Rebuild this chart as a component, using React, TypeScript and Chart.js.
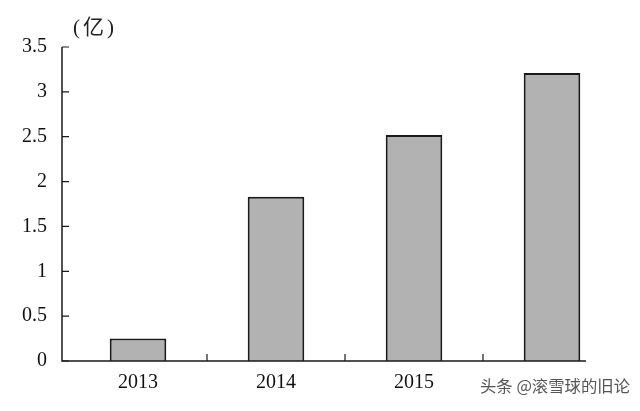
import React, { useEffect, useRef } from "react";
import { Chart, registerables } from "chart.js";

Chart.register(...registerables);

const categories = ["2013", "2014", "2015", "2016"];
const values = [0.25, 1.83, 2.52, 3.21];
const yTicks = [0, 0.5, 1, 1.5, 2, 2.5, 3, 3.5];
const unitLabel = "(亿)";
const watermark = "头条 @滚雪球的旧论";

const axisPlugin = {
  id: "axisPlugin",
  afterDraw(chart: any) {
    const ctx = chart.ctx;
    const ca = chart.chartArea;
    const x = chart.scales.x;
    const y = chart.scales.y;
    const axisX = ca.left - 7;
    const y0 = y.getPixelForValue(0);
    const yTop = y.getPixelForValue(3.5);
    ctx.save();
    ctx.strokeStyle = "#1a1a1a";
    ctx.lineWidth = 1.5;
    ctx.beginPath();
    ctx.moveTo(axisX, yTop);
    ctx.lineTo(axisX, y0);
    const lastRight = x.getPixelForValue(categories.length - 1) + 34;
    ctx.lineTo(lastRight, y0);
    ctx.stroke();
    ctx.lineWidth = 1.2;
    ctx.beginPath();
    yTicks.forEach((v) => {
      const py = y.getPixelForValue(v);
      ctx.moveTo(axisX, py);
      ctx.lineTo(axisX + 7, py);
    });
    for (let i = 0; i < categories.length - 1; i++) {
      const px = (x.getPixelForValue(i) + x.getPixelForValue(i + 1)) / 2;
      ctx.moveTo(px, y0);
      ctx.lineTo(px, y0 - 7);
    }
    ctx.stroke();
    // unit label
    ctx.fillStyle = "#222";
    ctx.font = '21px "Liberation Serif", "Noto Sans CJK SC"';
    ctx.textAlign = "left";
    ctx.textBaseline = "middle";
    (ctx as any).letterSpacing = "3px";
    ctx.fillText(unitLabel, ca.left + 4, 28);
    (ctx as any).letterSpacing = "0px";
    // watermark
    ctx.font = '18px "Noto Sans CJK SC"';
    const w0 = ctx.measureText(watermark).width;
    const size = Math.min(18, (18 * 150) / w0);
    ctx.font = size.toFixed(2) + 'px "Noto Sans CJK SC"';
    const w = ctx.measureText(watermark).width;
    ctx.fillStyle = "#ffffff";
    ctx.fillRect(477, 372, w + 8, 26);
    ctx.fillStyle = "#555";
    ctx.fillText(watermark, 480, 386);
    ctx.restore();
  },
};

export default function App() {
  const ref = useRef<HTMLCanvasElement | null>(null);
  useEffect(() => {
    document.body.style.margin = "0";
    const chart = new Chart(ref.current as HTMLCanvasElement, {
      type: "bar",
      data: {
        labels: categories,
        datasets: [
          {
            data: values,
            backgroundColor: "#b2b2b2",
            borderColor: "#1a1a1a",
            borderWidth: 2,
            categoryPercentage: 1,
            barPercentage: 0.41,
          },
        ],
      },
      options: {
        responsive: false,
        animation: false,
        layout: { padding: { top: 47, right: 19, left: 0, bottom: 0 } },
        plugins: { legend: { display: false }, tooltip: { enabled: false } },
        scales: {
          x: {
            grid: { display: false, drawTicks: false },
            border: { display: false },
            afterFit: (s: any) => {
              s.height = 50;
            },
            ticks: {
              padding: 10,
              color: "#111",
              font: { family: '"Liberation Serif"', size: 20 },
            },
          },
          y: {
            min: 0,
            max: 3.5,
            grid: { display: false, drawTicks: false },
            border: { display: false },
            afterFit: (s: any) => {
              s.width = 69;
            },
            afterBuildTicks: (s: any) => {
              s.ticks = yTicks.map((v) => ({ value: v }));
            },
            ticks: {
              padding: 22,
              color: "#111",
              font: { family: '"Liberation Serif"', size: 20 },
              callback: (v: any) => String(v),
            },
          },
        },
      },
      plugins: [axisPlugin],
    });
    return () => chart.destroy();
  }, []);
  return (
    <div style={{ width: 640, height: 411 }}>
      <canvas ref={ref} width={640} height={411} />
    </div>
  );
}
